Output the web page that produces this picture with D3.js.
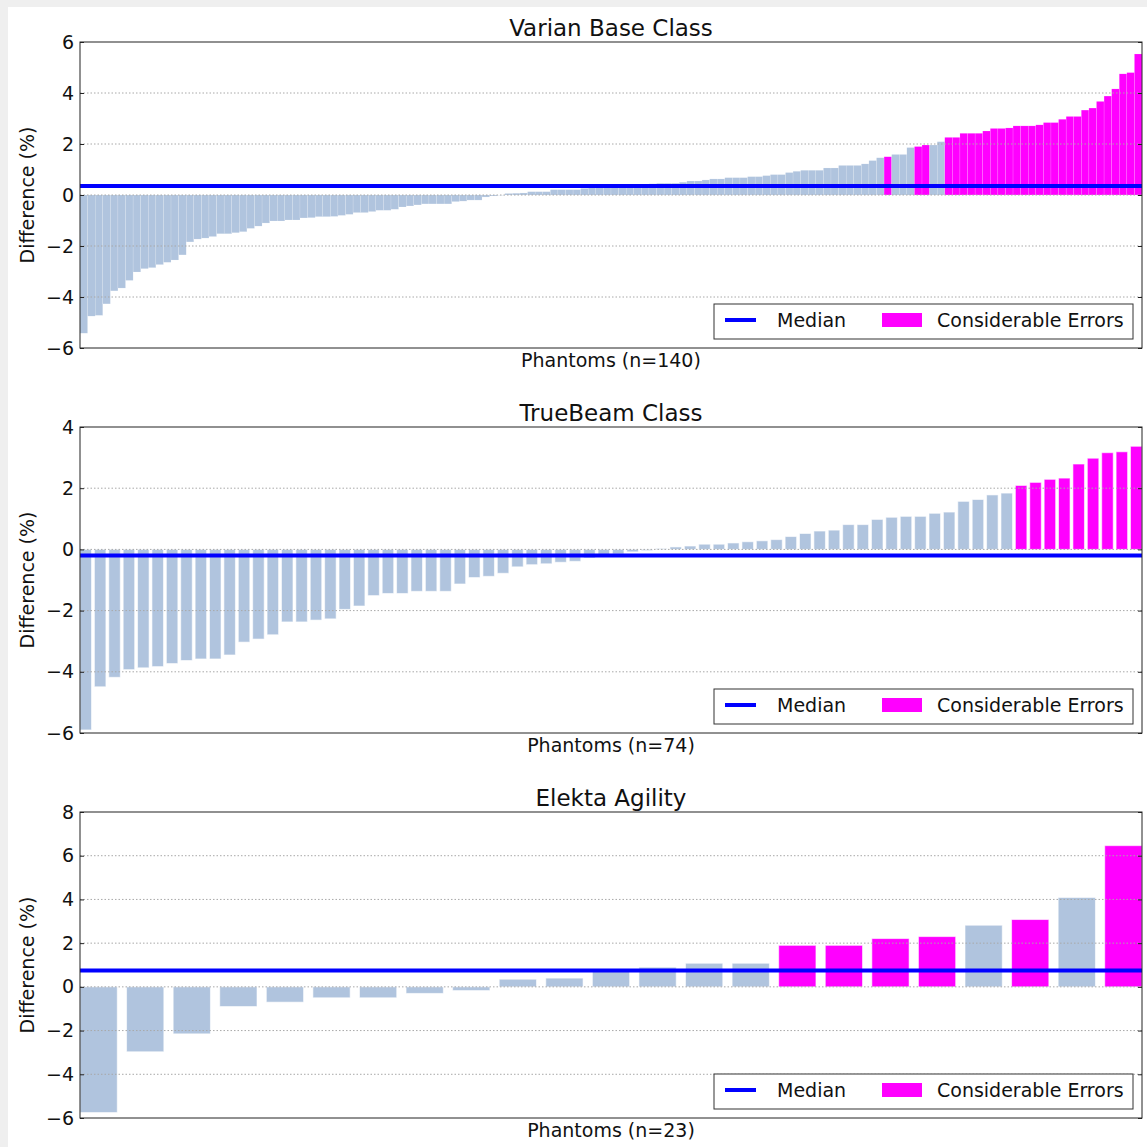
<!DOCTYPE html>
<html>
<head>
<meta charset="utf-8">
<script src="https://cdn.jsdelivr.net/npm/d3@7"></script>
<style>
  body { margin: 0; background: #efefef; }
  svg { display: block; }
  text { font-family: "DejaVu Sans", sans-serif; fill: #111; }
</style>
</head>
<body>
<div id="chart"></div>
<script>
const WIDTH = 1147;
const HEIGHT = 1147;

// datos (ordenados de menor a mayor)
const varianValues = [
  -5.42, -4.75, -4.72, -4.27, -3.76, -3.65, -3.35, -3.02, -2.89, -2.85,
  -2.73, -2.64, -2.55, -2.35, -1.84, -1.73, -1.69, -1.63, -1.52, -1.52,
  -1.48, -1.44, -1.31, -1.22, -1.10, -1.02, -1.02, -0.98, -0.98, -0.90,
  -0.89, -0.85, -0.85, -0.84, -0.80, -0.76, -0.69, -0.69, -0.65, -0.60,
  -0.60, -0.56, -0.47, -0.43, -0.39, -0.35, -0.35, -0.35, -0.35, -0.26,
  -0.24, -0.20, -0.20, -0.08, -0.04, -0.01, 0.06, 0.07, 0.08, 0.13,
  0.13, 0.13, 0.21, 0.21, 0.21, 0.21, 0.26, 0.28, 0.31, 0.33,
  0.36, 0.38, 0.40, 0.42, 0.43, 0.44, 0.46, 0.46, 0.46, 0.50,
  0.55, 0.55, 0.59, 0.63, 0.63, 0.68, 0.68, 0.68, 0.72, 0.72,
  0.76, 0.80, 0.80, 0.88, 0.93, 0.97, 0.97, 0.97, 1.06, 1.06,
  1.16, 1.16, 1.16, 1.22, 1.35, 1.46, 1.50, 1.59, 1.59, 1.86,
  1.90, 1.96, 1.96, 2.09, 2.26, 2.26, 2.42, 2.42, 2.42, 2.51,
  2.61, 2.61, 2.63, 2.71, 2.71, 2.71, 2.75, 2.84, 2.84, 2.97,
  3.08, 3.08, 3.33, 3.41, 3.67, 3.88, 4.16, 4.75, 4.80, 5.53
];
const varianErrors = [106, 110, 111, 114, 115, 116, 117, 118, 119, 120, 121, 122, 123,
  124, 125, 126, 127, 128, 129, 130, 131, 132, 133, 134, 135, 136, 137, 138, 139];
const varianMedian = 0.35;

const trueBeamValues = [
  -5.90, -4.49, -4.18, -3.93, -3.87, -3.83, -3.73, -3.63, -3.58, -3.58,
  -3.45, -3.03, -2.93, -2.79, -2.37, -2.37, -2.31, -2.27, -1.96, -1.85,
  -1.51, -1.44, -1.44, -1.37, -1.37, -1.37, -1.13, -0.92, -0.88, -0.78,
  -0.57, -0.50, -0.47, -0.42, -0.39, -0.28, -0.20, -0.15, -0.08, -0.04,
  0.03, 0.08, 0.11, 0.17, 0.17, 0.21, 0.25, 0.28, 0.32, 0.42,
  0.52, 0.60, 0.63, 0.81, 0.81, 0.98, 1.05, 1.08, 1.08, 1.18,
  1.22, 1.57, 1.63, 1.78, 1.84, 2.09, 2.19, 2.29, 2.33, 2.79,
  2.98, 3.16, 3.19, 3.37
];
const trueBeamErrors = [65, 66, 67, 68, 69, 70, 71, 72, 73];
const trueBeamMedian = -0.2;

const elektaValues = [
  -5.75, -2.97, -2.15, -0.90, -0.70, -0.50, -0.50, -0.30, -0.17, 0.35,
  0.40, 0.78, 0.90, 1.08, 1.08, 1.90, 1.90, 2.21, 2.30, 2.82,
  3.08, 4.09, 6.46
];
const elektaErrors = [15, 16, 17, 18, 20, 22];
const elektaMedian = 0.75;

const paneles = [
  { title: "Varian Base Class", values: varianValues, errors: varianErrors,
    median: varianMedian, yDomain: [-6, 6], barWidth: 1.0 },
  { title: "TrueBeam Class", values: trueBeamValues, errors: trueBeamErrors,
    median: trueBeamMedian, yDomain: [-6, 4], barWidth: 0.8 },
  { title: "Elekta Agility", values: elektaValues, errors: elektaErrors,
    median: elektaMedian, yDomain: [-6, 8], barWidth: 0.8 }
];

const svg = d3.select("#chart")
  .append("svg")
  .attr("width", WIDTH)
  .attr("height", HEIGHT);

// fondo blanco de la figura
svg.append("rect")
  .attr("x", 8).attr("y", 7)
  .attr("width", WIDTH - 8).attr("height", HEIGHT - 7)
  .attr("fill", "white");

const LEFT = 80, RIGHT = 1142, PH = 306;
const tops = [42, 427, 812];

paneles.forEach((p, k) => {
  const top = tops[k];
  const g = svg.append("g").attr("transform", `translate(${LEFT}, ${top})`);
  const w = RIGHT - LEFT;

  const x = d3.scaleLinear()
    .domain([0, p.values.length - 1 + p.barWidth])
    .range([0, w]);
  const y = d3.scaleLinear().domain(p.yDomain).range([PH, 0]);

  const ticks = d3.range(p.yDomain[0], p.yDomain[1] + 1, 2);

  // barras
  g.append("g")
    .selectAll("rect")
    .data(p.values)
    .join("rect")
    .attr("x", (d, i) => x(i))
    .attr("width", x(p.barWidth) - x(0))
    .attr("y", d => y(Math.max(0, d)))
    .attr("height", d => Math.abs(y(d) - y(0)))
    .attr("fill", (d, i) => p.errors.includes(i) ? "#ff00ff" : "#b0c4de")
    .attr("stroke", "white")
    .attr("stroke-opacity", p.barWidth === 1 ? 0.35 : 0.6)
    .attr("stroke-width", p.barWidth === 1 ? 0.4 : 1);

  // grilla punteada
  g.append("g")
    .selectAll("line")
    .data(ticks.filter(t => t > p.yDomain[0] && t < p.yDomain[1]))
    .join("line")
    .attr("x1", 0).attr("x2", w)
    .attr("y1", d => y(d)).attr("y2", d => y(d))
    .attr("stroke", "#a8a8a8")
    .attr("stroke-width", 1)
    .attr("stroke-dasharray", "1.5,2");

  // mediana
  g.append("line")
    .attr("x1", 0).attr("x2", w)
    .attr("y1", y(p.median)).attr("y2", y(p.median))
    .attr("stroke", "#0000ff")
    .attr("stroke-width", 4);

  // ejes
  const ejeY = g.append("g")
    .call(d3.axisLeft(y).tickValues(ticks).tickSize(-4).tickPadding(6).tickFormat(d3.format("d")));
  ejeY.select(".domain").remove();
  ejeY.selectAll("text").style("font-size", "19px").attr("fill", "#111");
  ejeY.selectAll("line").attr("stroke", "#222");

  const ejeYDer = g.append("g")
    .attr("transform", `translate(${w}, 0)`)
    .call(d3.axisRight(y).tickValues(ticks).tickSize(-4).tickFormat(""));
  ejeYDer.select(".domain").remove();
  ejeYDer.selectAll("line").attr("stroke", "#222");

  // marco
  g.append("rect")
    .attr("width", w).attr("height", PH)
    .attr("fill", "none")
    .attr("stroke", "#222")
    .attr("stroke-width", 1);

  // textos
  g.append("text")
    .attr("x", w / 2).attr("y", -6)
    .attr("text-anchor", "middle")
    .style("font-size", "23px")
    .text(p.title);

  g.append("text")
    .attr("x", w / 2).attr("y", PH + 19)
    .attr("text-anchor", "middle")
    .style("font-size", "19px")
    .text(`Phantoms (n=${p.values.length})`);

  g.append("text")
    .attr("transform", `translate(${34 - LEFT}, ${PH / 2}) rotate(-90)`)
    .attr("text-anchor", "middle")
    .style("font-size", "19px")
    .text("Difference (%)");

  // leyenda
  const ley = g.append("g").attr("transform", `translate(${714 - LEFT}, ${262})`);
  ley.append("rect")
    .attr("width", 419).attr("height", 35)
    .attr("fill", "white")
    .attr("stroke", "#333")
    .attr("stroke-width", 1);
  ley.append("line")
    .attr("x1", 11).attr("x2", 42)
    .attr("y1", 16).attr("y2", 16)
    .attr("stroke", "#0000ff")
    .attr("stroke-width", 4);
  ley.append("text")
    .attr("x", 63).attr("y", 23)
    .style("font-size", "19px")
    .text("Median");
  ley.append("rect")
    .attr("x", 168).attr("y", 9)
    .attr("width", 40).attr("height", 14)
    .attr("fill", "#ff00ff");
  ley.append("text")
    .attr("x", 223).attr("y", 23)
    .style("font-size", "19px")
    .text("Considerable Errors");
});
</script>
</body>
</html>
